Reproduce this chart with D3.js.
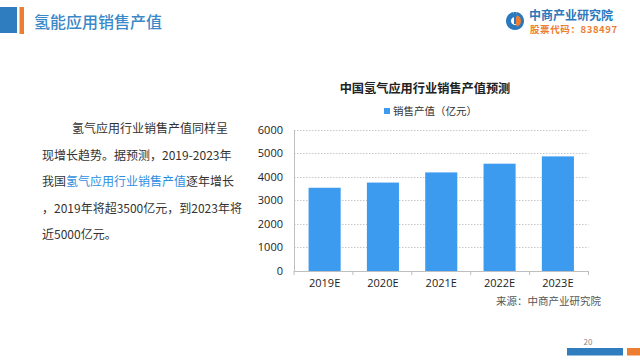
<!DOCTYPE html>
<html><head><meta charset="utf-8">
<script src="https://cdn.jsdelivr.net/npm/d3@7"></script>
<style>
html,body{margin:0;padding:0;background:#fff;}
svg{display:block;font-family:"Noto Sans CJK SC","Noto Sans",sans-serif;}
</style></head>
<body><svg id="c" width="640" height="360"></svg>
<script>
const categories = ["2019E","2020E","2021E","2022E","2023E"];
const salesValues = [3530, 3750, 4180, 4550, 4860];
const yTicks = [0,1000,2000,3000,4000,5000,6000];
const seriesName = "销售产值（亿元）";
const chartTitle = "中国氢气应用行业销售产值预测";
const pageTitle = "氢能应用销售产值";
const sourceText = "来源：中商产业研究院";

const svg = d3.select("#c");

// header decoration
svg.append("rect").attr("x",0).attr("y",7).attr("width",17).attr("height",26).attr("fill","#2f7dbf");
svg.append("rect").attr("x",19.5).attr("y",7).attr("width",4.5).attr("height",27).attr("fill","#ed7d31");
svg.append("text").attr("x",34).attr("y",28).attr("font-size",16).attr("font-weight",500).attr("fill","#3a88c8").text(pageTitle);

// logo
const lg = svg.append("g").attr("transform","translate(515,21)");
const arc = d3.arc();
lg.append("path").attr("d",arc({innerRadius:4,outerRadius:9,startAngle:Math.PI*0.05,endAngle:Math.PI*1.95})).attr("fill","#2a78be");
lg.append("path").attr("d",arc({innerRadius:0,outerRadius:6,startAngle:Math.PI*0.1,endAngle:Math.PI*0.9})).attr("fill","#ed7d31");
lg.append("rect").attr("x",-1).attr("y",-9).attr("width",2).attr("height",12).attr("fill","#2a78be");
svg.append("text").attr("x",529).attr("y",20).attr("font-size",12).attr("font-weight","bold").attr("fill","#2a78be").text("中商产业研究院");
svg.append("text").attr("x",530).attr("y",33).attr("font-size",9.5).attr("font-weight","bold").attr("fill","#ed7d31").attr("letter-spacing","0.6").text("股票代码：838497");

// paragraph
const para = svg.append("g").attr("font-size",12).attr("fill","#333");
const lines = [
  [{t:"氢气应用行业销售产值同样呈"}],
  [{t:"现增长趋势。据预测，2019-2023年"}],
  [{t:"我国"},{t:"氢气应用行业销售产值",c:"#2e8fe0"},{t:"逐年增长"}],
  [{t:"，2019年将超3500亿元，到2023年将"}],
  [{t:"近5000亿元。"}]
];
const lineY = [133,160,186,213,239];
lines.forEach((ln,i)=>{
  const t = para.append("text").attr("x", i===0?72:42).attr("y",lineY[i]);
  ln.forEach(s=>t.append("tspan").attr("fill",s.c||"#333").text(s.t));
});

// chart
const x0=294, x1=588.5, yTop=129.5, yBot=271;
const x = d3.scaleBand().domain(categories).range([x0,x1]).paddingInner(0.45).paddingOuter(0.25);
const y = d3.scaleLinear().domain([0,6000]).range([yBot,yTop]);

svg.append("text").attr("x",425).attr("y",93).attr("text-anchor","middle").attr("font-size",12.2).attr("font-weight","bold").attr("fill","#222").text(chartTitle);
svg.append("rect").attr("x",384).attr("y",108).attr("width",6).attr("height",6).attr("fill","#3d9bef");
svg.append("text").attr("x",393).attr("y",115).attr("font-size",10.5).attr("fill","#333").text(seriesName);

// grid
svg.append("g").selectAll("line").data(yTicks.filter(d=>d>0)).join("line")
  .attr("x1",x0).attr("x2",x1).attr("y1",d=>Math.round(y(d))+0.5).attr("y2",d=>Math.round(y(d))+0.5)
  .attr("stroke","#c8c8c8").attr("stroke-dasharray","1.5,1.5");

// y axis
const ya = svg.append("g").attr("transform",`translate(${x0},0)`)
  .call(d3.axisLeft(y).tickValues(yTicks).tickSize(0).tickPadding(11).tickFormat(d3.format("d")));
ya.select(".domain").attr("stroke","#bfbfbf");
ya.selectAll("text").attr("font-size",11).attr("fill","#222").attr("font-family","Open Sans, sans-serif");

// bars
svg.append("g").selectAll("rect").data(salesValues).join("rect")
  .attr("x",(d,i)=>x(categories[i])).attr("width",x.bandwidth())
  .attr("y",d=>y(d)).attr("height",d=>yBot-y(d)).attr("fill","#3d9bef");

// x axis
const xa = svg.append("g").attr("transform",`translate(0,${yBot})`)
  .call(d3.axisBottom(x).tickSize(0).tickPadding(8));
xa.select(".domain").attr("stroke","#bfbfbf");
xa.selectAll("text").attr("font-size",11).attr("fill","#222").attr("font-family","Open Sans, sans-serif");
const bounds = d3.range(categories.length+1).map(i=>x0+i*(x1-x0)/categories.length);
xa.append("g").selectAll("line").data(bounds).join("line")
  .attr("x1",d=>d).attr("x2",d=>d).attr("y1",0).attr("y2",4).attr("stroke","#bfbfbf");

svg.append("text").attr("x",601).attr("y",305).attr("text-anchor","end").attr("font-size",10.5).attr("fill","#555").text(sourceText);

// footer
svg.append("rect").attr("x",567).attr("y",348).attr("width",56).attr("height",7.5).attr("fill","#2f7dbf");
svg.append("rect").attr("x",627).attr("y",348).attr("width",13).attr("height",7.5).attr("fill","#ed7d31");
svg.append("text").attr("x",588).attr("y",345).attr("text-anchor","middle").attr("font-size",8).attr("fill","#888").text("20");
</script></body></html>
